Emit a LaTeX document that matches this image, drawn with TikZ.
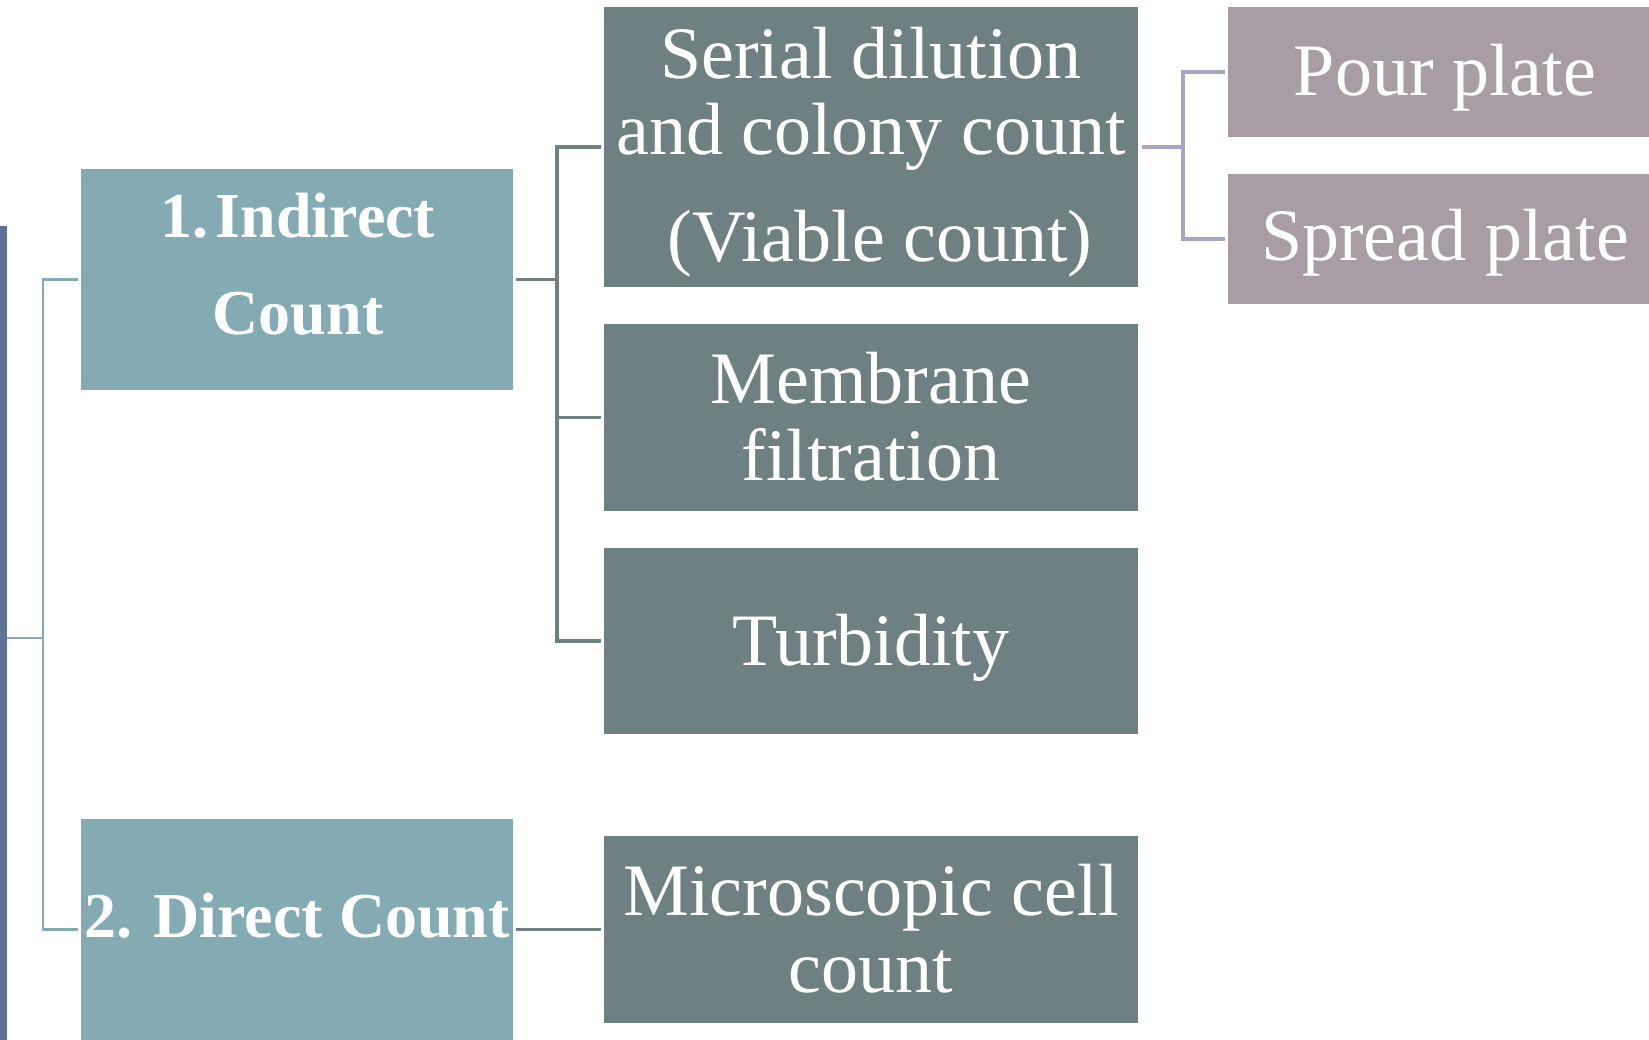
\documentclass[tikz,border=0pt]{standalone}
\usepackage{fontspec}
\setmainfont{Liberation Serif}
\definecolor{barblue}{RGB}{94,114,151}
\definecolor{tealbox}{RGB}{132,171,180}
\definecolor{graybox}{RGB}{111,128,131}
\definecolor{mauvebox}{RGB}{168,157,165}
\definecolor{lavline}{RGB}{169,165,192}
\begin{document}
\begin{tikzpicture}[x=1pt,y=-1pt,
  boxn/.style={inner sep=0pt, outer sep=0pt, draw=none},
  tealn/.style={boxn, fill=tealbox},
  grayn/.style={boxn, fill=graybox},
  mauven/.style={boxn, fill=mauvebox},
  txt/.style={text=white, anchor=base, inner sep=0pt, font=\fontsize{74}{74}\selectfont},
  btxt/.style={text=white, anchor=base, inner sep=0pt, font=\fontsize{64}{64}\selectfont\bfseries},
  tealline/.style={draw=tealbox, line width=2.6pt},
  grayline/.style={draw=graybox, line width=3.2pt},
  lavline/.style={draw=lavline, line width=3.2pt}]
\useasboundingbox (0,0) rectangle (1649,1040);
\fill[white] (0,0) rectangle (1649,1040);
% boxes
\node[boxn, fill=barblue, minimum width=7.4pt, minimum height=814pt] (bar) at (3.7,633) {};
\node[tealn, minimum width=432pt, minimum height=221pt] (ind) at (297,279.5) {};
\node[tealn, minimum width=432pt, minimum height=221pt] (dir) at (297,929.5) {};
\node[grayn, minimum width=534pt, minimum height=280pt] (ser) at (871,147) {};
\node[grayn, minimum width=534pt, minimum height=187pt] (mem) at (871,417.5) {};
\node[grayn, minimum width=534pt, minimum height=186pt] (tur) at (871,641) {};
\node[grayn, minimum width=534pt, minimum height=187pt] (mic) at (871,929.5) {};
\node[mauven, minimum width=421pt, minimum height=130pt] (pour) at (1438.5,72) {};
\node[mauven, minimum width=421pt, minimum height=130pt] (spr) at (1438.5,239) {};
% texts
\node[btxt] (indA) at (298,238) {1.\hspace{7pt}Indirect};
\node[btxt] (indB) at (298,335) {Count};
\node[btxt] (dirA) at (297,937) {2. Direct Count};
\node[txt] (serA) at (871,79) {Serial dilution};
\node[txt] (serB) at (871,155) {and colony count};
\node[txt] (serC) at (880,262) {(Viable count)};
\node[txt] (memA) at (871,403) {Membrane};
\node[txt] (memB) at (871,480) {filtration};
\node[txt] (turA) at (871,665) {Turbidity};
\node[txt] (micA) at (871,915) {Microscopic cell};
\node[txt] (micB) at (871,992) {count};
\node[txt] (pourA) at (1445,96) {Pour plate};
\node[txt] (sprA) at (1445,261) {Spread plate};
% connectors
\coordinate (lj) at (43,638);
\draw[tealline] (bar.east |- lj) -- (lj);
\draw[tealline, shorten >=3pt] (lj) |- (ind.west);
\draw[tealline, shorten >=3pt] (lj) |- (dir.west);
\coordinate (gj) at (557,279.5);
\draw[grayline, shorten <=3pt] (ind.east) -- (gj);
\draw[grayline, shorten >=3pt] (gj) |- (ser.west);
\draw[grayline, shorten >=3pt] (gj) |- (mem.west);
\draw[grayline, shorten >=3pt] (gj) |- (tur.west);
\draw[grayline, shorten <=3pt, shorten >=3pt] (dir.east) -- (mic.west);
\coordinate (sj) at (1183,147);
\draw[lavline, shorten <=4pt] (ser.east) -- (sj);
\draw[lavline, shorten >=3pt] (sj) |- (pour.west);
\draw[lavline, shorten >=3pt] (sj) |- (spr.west);
\end{tikzpicture}
\end{document}
